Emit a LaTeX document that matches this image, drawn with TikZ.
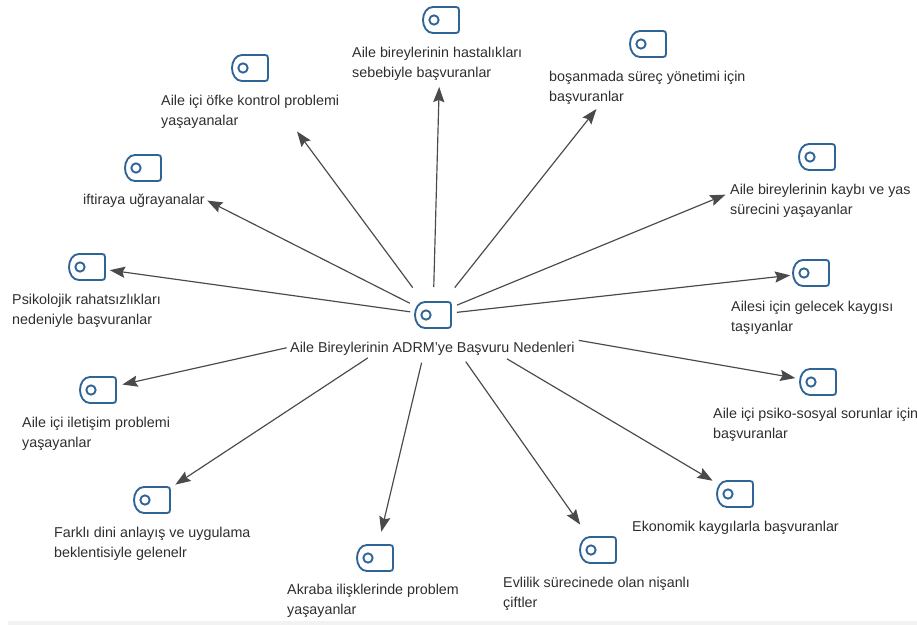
\documentclass[tikz,border=0pt]{standalone}
\usepackage{fontspec}
\setmainfont{Liberation Sans}
\usetikzlibrary{arrows.meta}
\definecolor{iconblue}{HTML}{2F6497}
\definecolor{connGray}{HTML}{4A4A4A}
\definecolor{labelGray}{HTML}{2E2E2E}
\tikzset{
  iconbox/.style={minimum width=1.3cm, minimum height=1cm, inner sep=0pt, path picture={
    \begin{scope}[shift={(path picture bounding box.center)}, line width=1.6pt, draw=iconblue]
      \draw (-8,-13) -- (15,-13) .. controls (17,-13) and (18,-12) .. (18,-10)
            -- (18,10) .. controls (18,12) and (17,13) .. (15,13)
            -- (-8,13) .. controls (-14,13) and (-18,7) .. (-18,0)
            .. controls (-18,-7) and (-14,-13) .. (-8,-13) -- cycle;
      \draw (-7,0) circle [radius=0.14cm];
    \end{scope}}},
  itemlabel/.style={anchor=north west, align=left, inner sep=0pt, text=labelGray, yshift=-0.06cm,
    font=\fontsize{12.2}{17}\selectfont},
  conn/.style={draw=connGray, line width=1pt, -{Stealth[length=13pt, width=9.5pt, inset=2pt]}}
}
\begin{document}
\begin{tikzpicture}[x=0.03cm, y=-0.03cm]
  \useasboundingbox (0,0) rectangle (917,625);
  \fill[black!5] (8,621) rectangle (917,625);
  % center
  \node[iconbox] (center) at (433,315) {};
  \node[itemlabel] (centerlbl) at (290,340) {Aile Bireylerinin ADRM'ye Başvuru Nedenleri};
  % items, clockwise from the top
  \node[iconbox] (hastalik) at (441,20) {};
  \node[itemlabel] (hastaliklbl) at (352,45) {Aile bireylerinin hastalıkları\\sebebiyle başvuranlar};
  \node[iconbox] (bosanma) at (648,44) {};
  \node[itemlabel] (bosanmalbl) at (549,69) {boşanmada süreç yönetimi için\\başvuranlar};
  \node[iconbox] (kayip) at (817,157) {};
  \node[itemlabel] (kayiplbl) at (730,182) {Aile bireylerinin kaybı ve yas\\sürecini yaşayanlar};
  \node[iconbox] (gelecek) at (811,273) {};
  \node[itemlabel] (geleceklbl) at (731,299) {Ailesi için gelecek kaygısı\\taşıyanlar};
  \node[iconbox] (psikososyal) at (818,382) {};
  \node[itemlabel] (psikososyallbl) at (713,406) {Aile içi psiko-sosyal sorunlar için\\başvuranlar};
  \node[iconbox] (ekonomik) at (735,494) {};
  \node[itemlabel] (ekonomiklbl) at (632,519) {Ekonomik kaygılarla başvuranlar};
  \node[iconbox] (evlilik) at (598,550) {};
  \node[itemlabel] (evliliklbl) at (503,575) {Evlilik sürecinede olan nişanlı\\çiftler};
  \node[iconbox] (akraba) at (375,558) {};
  \node[itemlabel] (akrabalbl) at (287,582) {Akraba ilişklerinde problem\\yaşayanlar};
  \node[iconbox] (farkli) at (152,500) {};
  \node[itemlabel] (farklilbl) at (54,525) {Farklı dini anlayış ve uygulama\\beklentisiyle gelenelr};
  \node[iconbox] (iletisim) at (98,390) {};
  \node[itemlabel] (iletisimlbl) at (22,415) {Aile içi iletişim problemi\\yaşayanlar};
  \node[iconbox] (psikolojik) at (87,267) {};
  \node[itemlabel] (psikolojiklbl) at (12,292) {Psikolojik rahatsızlıkları\\nedeniyle başvuranlar};
  \node[iconbox] (iftira) at (143,168) {};
  \node[itemlabel] (iftiralbl) at (83,192) {iftiraya uğrayanalar};
  \node[iconbox] (ofke) at (250,68) {};
  \node[itemlabel] (ofkelbl) at (161,93) {Aile içi öfke kontrol problemi\\yaşayanalar};
  % connectors: name / gap at center / gap at item
  \foreach \item/\gapa/\gapb in {hastalik/28/67, bosanma/35/83, kayip/26/99, gelecek/24/21,
      psikososyal/148/23, ekonomik/86/26, evlilik/57/31, akraba/49/27, farkli/78/28,
      iletisim/150/25, psikolojik/23/23, iftira/26/72, ofke/34/79}
    \draw[conn, shorten <=\gapa*0.03cm, shorten >=\gapb*0.03cm] (center.center) -- (\item.center);
\end{tikzpicture}
\end{document}
